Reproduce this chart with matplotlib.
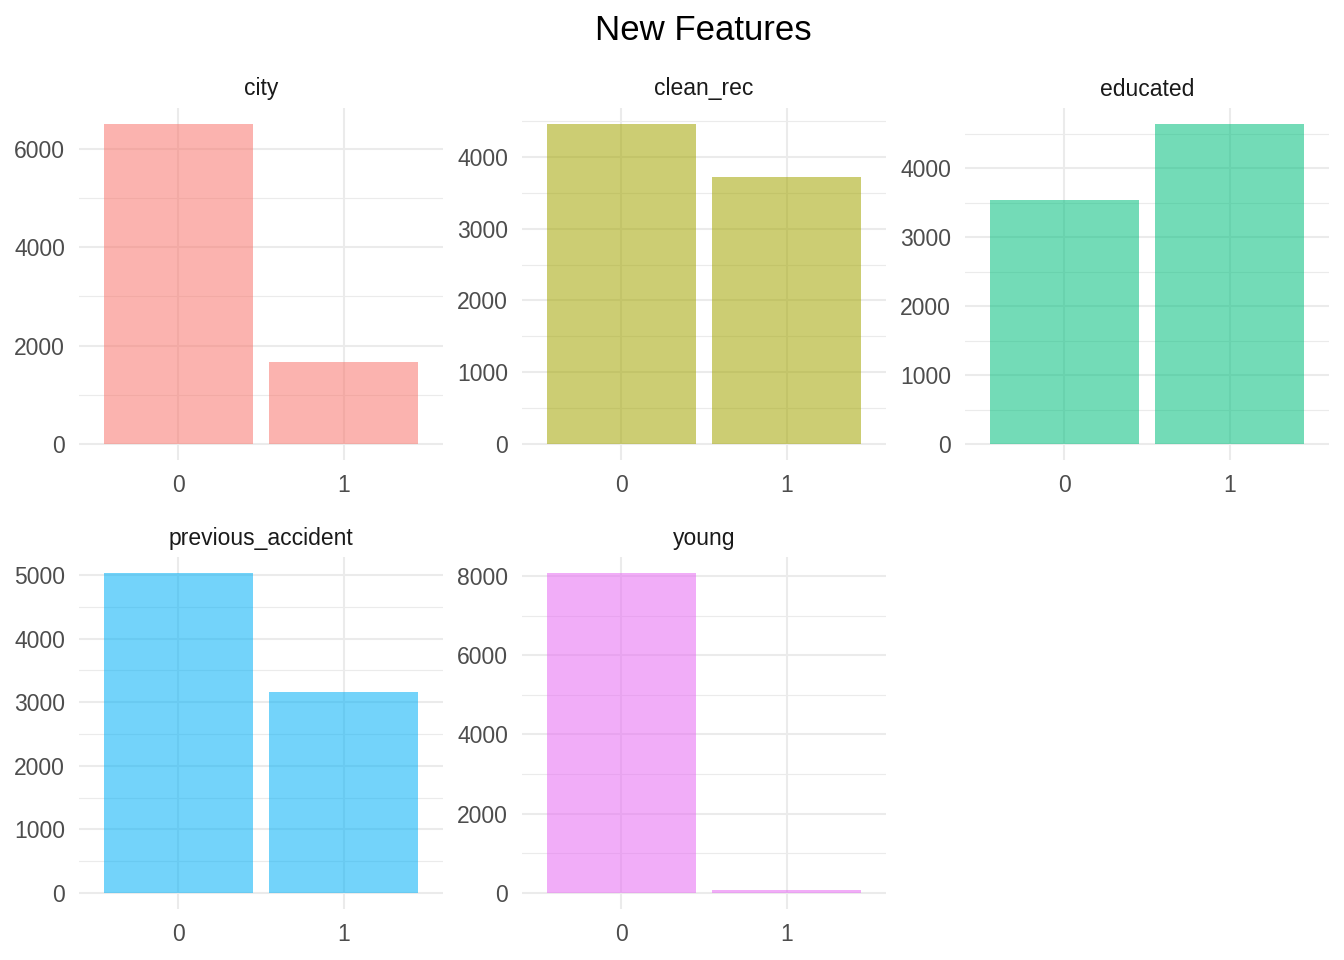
import matplotlib.pyplot as plt
from matplotlib.ticker import MultipleLocator

plt.rcParams["font.family"] = ["Liberation Sans", "DejaVu Sans"]

# counts per feature
features = ["city", "clean_rec", "educated", "previous_accident", "young"]
levels = ["0", "1"]
counts = {
    "city": [6504, 1667],
    "clean_rec": [4457, 3719],
    "educated": [3536, 4638],
    "previous_accident": [5031, 3160],
    "young": [8073, 70],
}
y_steps = {"city": 2000, "clean_rec": 1000, "educated": 1000,
           "previous_accident": 1000, "young": 2000}
colors = ["#F8766D", "#A3A500", "#00BF7D", "#00B0F6", "#E76BF3"]

W, H = 1344, 960
fig = plt.figure(figsize=(W / 100, H / 100), dpi=100)

col_left = [79, 522, 965]
row_top = [108, 557]
pw, ph = 364, 352

for i, feat in enumerate(features):
    r, c = divmod(i, 3)
    x0, y0 = col_left[c], row_top[r]
    ax = fig.add_axes([x0 / W, 1 - (y0 + ph) / H, pw / W, ph / H])
    vals = counts[feat]
    xs = range(len(levels))
    ax.bar(xs, vals, width=0.9, color=colors[i], alpha=0.55, linewidth=0)
    top = max(vals)
    ax.set_ylim(-0.05 * top, 1.05 * top)
    ax.set_xlim(-0.6, len(levels) - 0.4)
    ax.set_xticks(list(xs))
    ax.set_xticklabels(levels)
    step = y_steps[feat]
    ax.yaxis.set_major_locator(MultipleLocator(step))
    ax.yaxis.set_minor_locator(MultipleLocator(step / 2))
    ax.set_axisbelow(True)
    ax.grid(True, which="major", color="#EBEBEB", linewidth=1.5)
    ax.grid(True, which="minor", axis="y", color="#EBEBEB", linewidth=0.8)
    for s in ax.spines.values():
        s.set_visible(False)
    ax.tick_params(which="both", length=0, labelsize=16.5, labelcolor="#4D4D4D")
    ax.tick_params(axis="y", pad=10)
    ax.tick_params(axis="x", pad=10)
    fig.text((x0 + pw / 2) / W, 1 - (y0 - 19) / H, feat, ha="center", va="center",
             fontsize=16.5, color="#1A1A1A")

fig.text(703.5 / W, 1 - 31 / H, "New Features", ha="center", va="center",
         fontsize=25, color="black")

fig.savefig("out.png", dpi=100)
